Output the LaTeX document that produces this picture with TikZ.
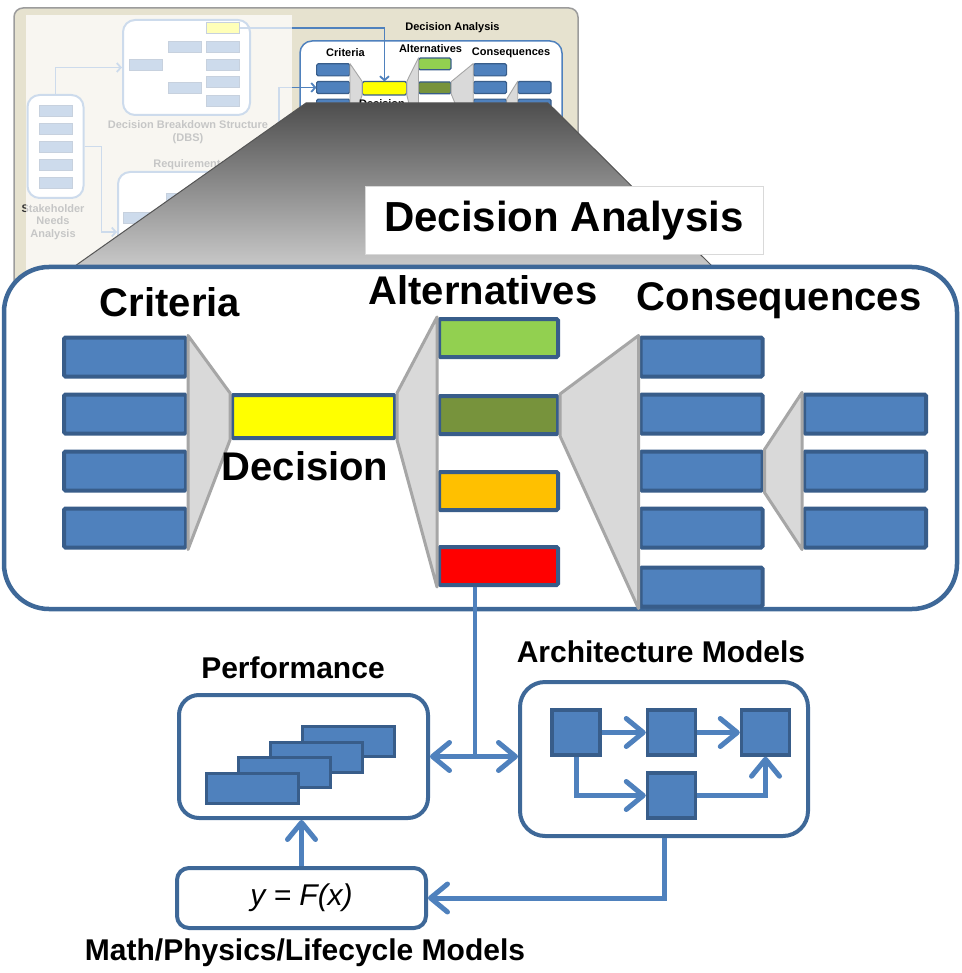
\documentclass[tikz,border=0pt]{standalone}
\usepackage{fontspec}
\setmainfont{Liberation Sans}
\usetikzlibrary{positioning,arrows.meta}

\definecolor{barfill}{HTML}{4F81BD}
\definecolor{barline}{HTML}{385D8A}
\definecolor{boxline}{HTML}{3E6898}
\definecolor{linkblue}{HTML}{4F81BD}
\definecolor{funfill}{HTML}{D9D9D9}
\definecolor{funline}{HTML}{A6A6A6}
\definecolor{altgreen}{HTML}{92D050}
\definecolor{altolive}{HTML}{77933C}
\definecolor{altorange}{HTML}{FFC000}
\definecolor{altred}{HTML}{FF0000}
\definecolor{decyellow}{HTML}{FFFF00}
\definecolor{shottan}{HTML}{E6E2CF}
\definecolor{shotline}{HTML}{9C9C9C}
\definecolor{fadetext}{HTML}{333333}
\definecolor{wedgetop}{HTML}{4E4E4E}
\definecolor{wedgemid}{HTML}{999999}
\definecolor{wedgebot}{HTML}{C8C8C8}
\definecolor{wedgeline}{HTML}{555555}
\definecolor{titleline}{HTML}{D9D9D9}

% criteria -> decision -> alternatives -> consequences
% #1 name prefix, #2 bar line width, #3 funnel line width
\newcommand{\dapanel}[3]{%
    \foreach \i/\y in {1/357,2/414,3/471,4/528}
        \node[bar, line width=#2] (#1c\i) at (125,\y) {};
    \node[bar, line width=#2, fill=decyellow, minimum width=163pt, minimum height=43pt] (#1dec) at (313.5,416.5) {};
    \foreach \i/\y/\col in {1/338/altgreen,2/415/altolive,3/491/altorange,4/566/altred}
        \node[bar, line width=#2, fill=\col, minimum width=119pt, minimum height=38pt] (#1a\i) at (498.5,\y) {};
    \foreach \i/\y in {1/357,2/414,3/471,4/528,5/587}
        \node[bar, line width=#2] (#1q\i) at (701.5,\y) {};
    \foreach \i/\y in {1/414,2/471,3/528}
        \node[bar, line width=#2] (#1r\i) at (865,\y) {};
    \draw[funnel, line width=#3] (#1c1.north east) -- (#1dec.north west) -- (#1dec.south west) -- (#1c4.south east) -- cycle;
    \draw[funnel, line width=#3] (#1dec.north east) -- (#1a1.north west) -- (#1a4.south west) -- (#1dec.south east) -- cycle;
    \draw[funnel, line width=#3] (#1a2.north east) -- (#1q1.north west) -- (#1q5.south west) -- (#1a2.south east) -- cycle;
    \draw[funnel, line width=#3] (#1q3.north east) -- (#1r1.north west) -- (#1r3.south west) -- (#1q3.south east) -- cycle;
}

\begin{document}
\begin{tikzpicture}[
    x=1pt, y=-1pt,
    linktip/.tip={Straight Barb[length=17pt,width=28pt,line width=5pt,round]},
    fadetip/.tip={Straight Barb[length=4pt,width=9pt]},
    bar/.style={
        draw=barline,
        fill=barfill,
        rounded corners=1.5pt,
        inner sep=0pt,
        minimum width=122pt,
        minimum height=39pt
    },
    funnel/.style={draw=funline, fill=funfill, line join=round},
    shot/.style={draw=shotline, fill=shottan, line width=1.5pt, rounded corners=9pt},
    fbox/.style={draw=barfill, fill=white, line width=2pt, rounded corners=12pt, inner sep=0pt},
    fbar/.style={draw=barline, fill=barfill, line width=0.8pt, inner sep=0pt, minimum width=33pt, minimum height=11pt},
    ftext/.style={font=\bfseries\fontsize{11}{12.5}\selectfont, text=fadetext, align=center, inner sep=0pt},
    flink/.style={draw=barfill, line width=1.8pt, -fadetip},
    tbox/.style={draw=barfill, fill=white, line width=1.5pt, rounded corners=12pt, minimum width=262pt, minimum height=110pt},
    tlbl/.style={font=\bfseries\fontsize{11}{13}\selectfont, inner sep=0pt},
    wedge/.style={top color=wedgetop, middle color=wedgemid, bottom color=wedgebot, draw=wedgeline, line width=1pt},
    titlebox/.style={
        draw=titleline,
        fill=white,
        line width=1pt,
        minimum width=398pt,
        minimum height=68pt,
        font=\bfseries\fontsize{42}{46}\selectfont
    },
    dabox/.style={draw=boxline, fill=white, line width=4.5pt, rounded corners=45pt, minimum width=953pt, minimum height=342pt},
    biglbl/.style={font=\bfseries\fontsize{40}{44}\selectfont, inner sep=0pt},
    mbox/.style={draw=boxline, fill=white, line width=4pt, inner sep=0pt},
    card/.style={draw=barline, fill=barfill, line width=3pt, minimum width=92pt, minimum height=30pt, inner sep=0pt},
    sq/.style={draw=barline, fill=barfill, line width=3.5pt, minimum width=48pt, minimum height=45pt, inner sep=0pt},
    link/.style={draw=linkblue, line width=5pt, -linktip},
    lbl/.style={font=\bfseries\fontsize{30}{34}\selectfont, inner sep=0pt}
]
\useasboundingbox (0,0) rectangle (961,973);

% screenshot behind the zoom
\draw[shot] (14,8) rectangle (578,300);

\node[fbox, minimum width=56pt, minimum height=103pt] (sna) at (55.5,146.5) {};
\foreach \i in {0,...,4}
    \node[fbar] (sna\i) at (55.5,110.5+18*\i) {};
\node[ftext] (snalbl) at (53,222) {Stakeholder\\Needs\\Analysis};

\node[fbox, minimum width=127pt, minimum height=95pt] (dbs) at (186.5,67.5) {};
\node[fbar, fill=decyellow] (dbsy) at (223,28) {};
\foreach \i/\y in {1/47,2/64.5,3/82,4/100.5}
    \node[fbar] (dbsr\i) at (223,\y) {};
\node[fbar] (dbsm1) at (185,47) {};
\node[fbar] (dbsm2) at (185,88) {};
\node[fbar] (dbsl) at (146,64.5) {};
\node[ftext] (dbslbl) at (188,132) {Decision Breakdown Structure\\(DBS)};

\node[ftext] (reqlbl) at (190,165) {Requirements};
\node[fbox, minimum width=132pt, minimum height=120pt] (req) at (184,232) {};
\node[fbar] (req1) at (183,199) {};
\node[fbar] (req2) at (140,218) {};

% small decision analysis
\node[tbox] (tda) at (431,96) {};
\node[tlbl] (ttitle) at (452.5,27.5) {Decision Analysis};
\node[tlbl] (tcrit) at (345.5,53) {Criteria};
\node[tlbl] (talt) at (430.5,49) {Alternatives};
\node[tlbl] (tcons) at (511,52.5) {Consequences};
\begin{scope}[shift={(299.2,-40.85)}, xscale=0.272, yscale=0.31, transform shape]
    \dapanel{t}{1.2pt}{0.9pt}
\end{scope}
\node[tlbl] (tdlbl) at (382,103.5) {Decision};

\draw[flink] (sna.north) |- (dbs.west);
\draw[flink] (sna.east) -- ++(17,0) |- (req.west);
\draw[flink] (dbsy.east) -| (tdec.north);
\draw[flink] (req.east) -- ++(28,0) |- (tc2.west);

% wash over the left part
\fill[white, fill opacity=0.72] (25.5,15) rectangle (292,300);

% zoom
\path[wedge] (306,103) -- (548,103) -- (712,266) -- (75,266) -- cycle;
\node[titlebox] (title) at (564,221) {Decision Analysis};

\node[dabox] (da) at (480.5,438) {};
\dapanel{}{4pt}{3pt}
\node[biglbl] (crit) at (170,302) {Criteria};
\node[biglbl] (alt) at (483,290) {Alternatives};
\node[biglbl] (cons) at (779,301) {Consequences};
\node[biglbl] (declbl) at (305,466) {Decision};

% models
\node[mbox, minimum width=249pt, minimum height=123pt, rounded corners=20pt] (perf) at (303.5,756.5) {};
\node[lbl] (perflbl) at (293,668) {Performance};
\foreach \i/\x/\y in {1/348/741.5,2/316/757,3/284/772.5,4/252/788}
    \node[card] (card\i) at (\x,\y) {};

\node[mbox, minimum width=288pt, minimum height=154pt, rounded corners=25pt] (arch) at (664,759) {};
\node[lbl] (archlbl) at (661,652) {Architecture Models};
\node[sq] (sa) at (576,732.5) {};
\node[sq] (sb) at (671.5,732.5) {};
\node[sq] (sc) at (765.5,732.5) {};
\node[sq] (sd) at (671.5,795.5) {};
\draw[link] (sa) -- (sb);
\draw[link] (sb) -- (sc);
\draw[link] (sa.south) |- (sd.west);
\draw[link] (sd.east) -| (sc.south);

\node[mbox, minimum width=249pt, minimum height=60pt, rounded corners=12pt,
    font=\itshape\fontsize{30}{34}\selectfont] (fx) at (301.5,898) {y = F(x)};
\node[lbl] (fxlbl) at (305,953) {Math/Physics/Lifecycle Models};

\coordinate (jn) at (475,757);
\draw[draw=linkblue, line width=4.5pt] (a4.south -| jn) -- (jn);
\draw[link, linktip-linktip] (perf.east) -- (perf.east -| arch.west);
\draw[link] (fx.north) -- (fx.north |- perf.south);
\draw[link] (arch.south) |- (fx.east);

\end{tikzpicture}
\end{document}
